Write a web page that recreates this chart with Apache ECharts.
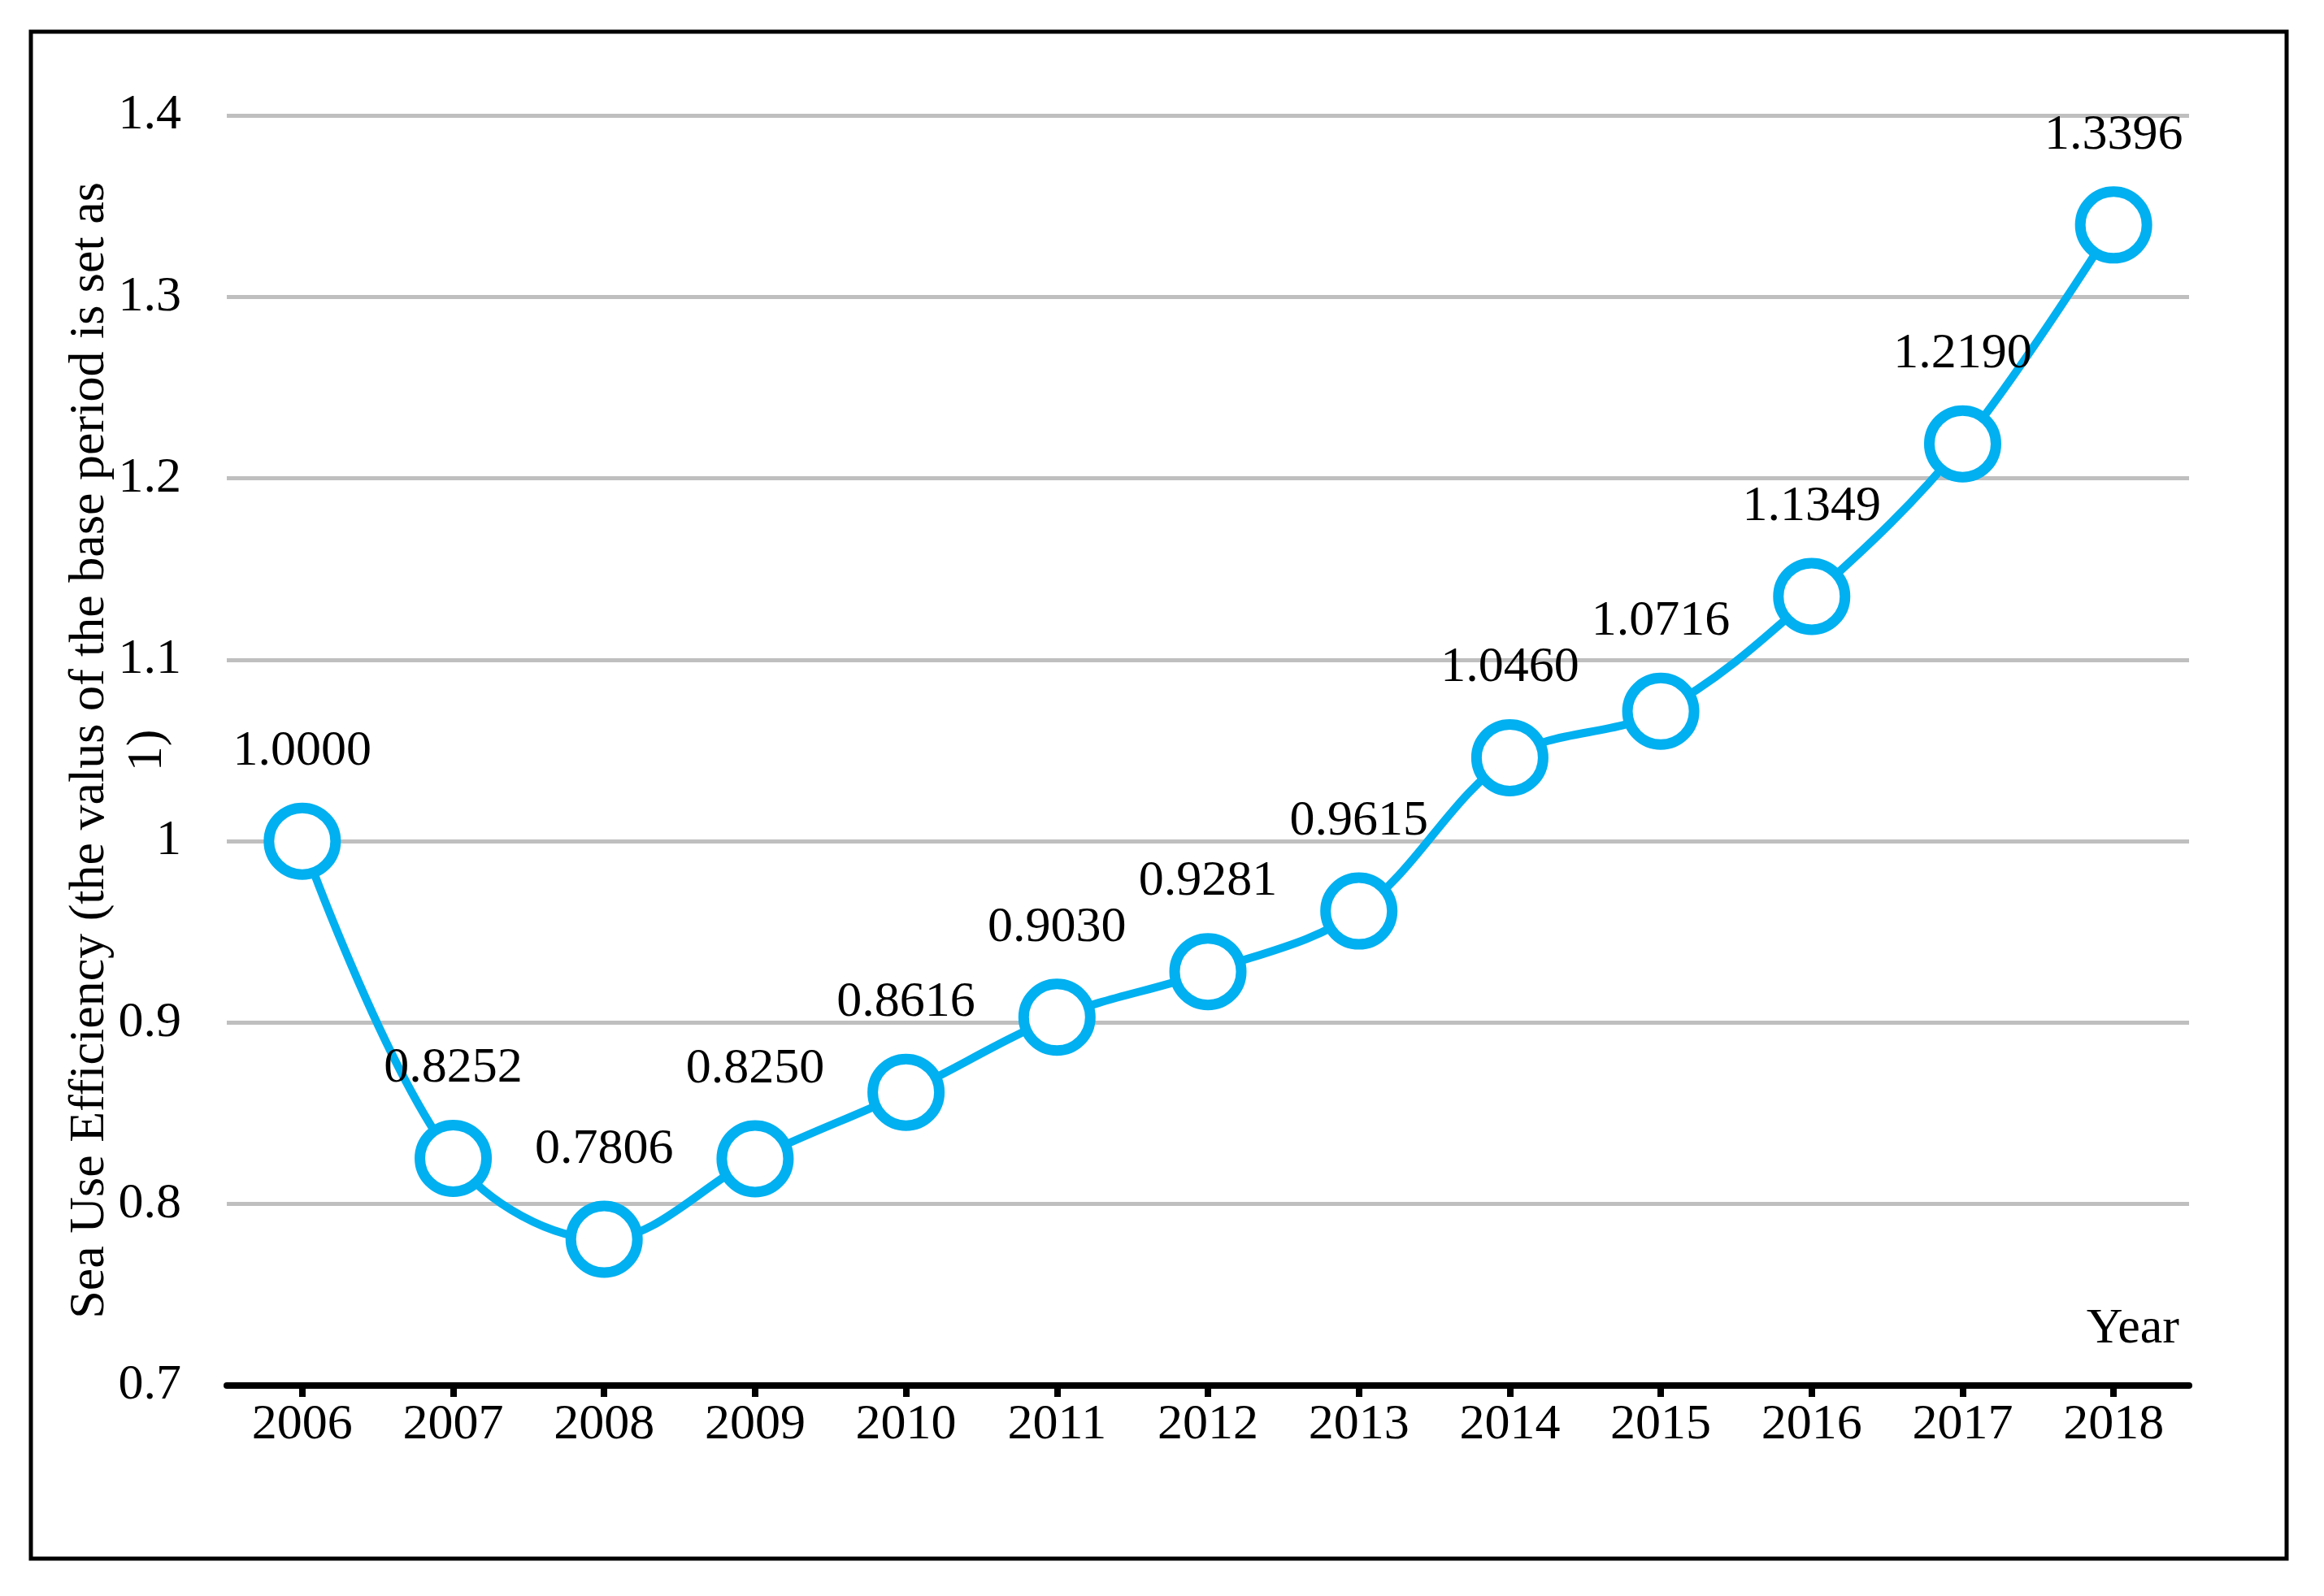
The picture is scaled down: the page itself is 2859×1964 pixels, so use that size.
<!DOCTYPE html>
<html>
<head>
<meta charset="utf-8">
<script src="https://cdn.jsdelivr.net/npm/echarts@6/dist/echarts.min.js"></script>
<style>
html,body{margin:0;padding:0;background:#fff;}
#chart{width:2859px;height:1964px;}
</style>
</head>
<body>
<div id="chart"></div>
<script>
const years = ['2006','2007','2008','2009','2010','2011','2012','2013','2014','2015','2016','2017','2018'];
const efficiency = [1.0000, 0.8252, 0.7806, 0.8250, 0.8616, 0.9030, 0.9281, 0.9615, 1.0460, 1.0716, 1.1349, 1.2190, 1.3396];
const yAxisName = 'Sea Use Efficiency (the valus of the base period is set as\n1)';
const xAxisName = 'Year';

const FONT = '"Liberation Serif", "Times New Roman", serif';
const chart = echarts.init(document.getElementById('chart'), null, {renderer: 'canvas'});
chart.setOption({
  backgroundColor: '#ffffff',
  animation: false,
  graphic: [{
    type: 'rect',
    shape: {x: 38, y: 39, width: 2775, height: 1879},
    style: {fill: 'none', stroke: '#000', lineWidth: 5},
    z: 0
  }],
  grid: {left: 279, right: 166, top: 142, bottom: 259, containLabel: false, outerBoundsMode: 'none'},
  xAxis: {
    type: 'category',
    data: years,
    boundaryGap: true,
    name: xAxisName,
    nameLocation: 'end',
    nameGap: -12,
    nameMoveOverlap: false,
    nameTextStyle: {fontFamily: FONT, fontSize: 62, color: '#000', align: 'right', verticalAlign: 'bottom', padding: [0, 0, 38, 0]},
    axisLine: {show: true, lineStyle: {color: '#000', width: 8}},
    axisTick: {show: true, alignWithLabel: true, length: 14, lineStyle: {color: '#000', width: 8}},
    axisLabel: {fontFamily: FONT, fontSize: 62, color: '#000', margin: 18},
    splitLine: {show: false}
  },
  yAxis: {
    type: 'value',
    min: 0.7,
    max: 1.4,
    interval: 0.1,
    name: yAxisName,
    nameLocation: 'middle',
    nameGap: 62,
    nameMoveOverlap: false,
    nameTextStyle: {fontFamily: FONT, fontSize: 62, color: '#000', lineHeight: 71},
    axisLine: {show: false},
    axisTick: {show: false},
    axisLabel: {fontFamily: FONT, fontSize: 62, color: '#000', margin: 56},
    splitLine: {show: true, lineStyle: {color: '#BFBFBF', width: 5}}
  },
  series: [{
    type: 'line',
    data: efficiency,
    smooth: 0.35,
    symbol: 'circle',
    symbolSize: 82,
    showAllSymbol: true,
    lineStyle: {color: '#00B0F0', width: 10},
    itemStyle: {color: '#ffffff', borderColor: '#00B0F0', borderWidth: 13},
    label: {
      show: true,
      position: 'top',
      distance: 32,
      fontFamily: FONT,
      fontSize: 62,
      color: '#000',
      formatter: p => Number(p.value).toFixed(4)
    },
    z: 3
  }]
});
</script>
</body>
</html>
